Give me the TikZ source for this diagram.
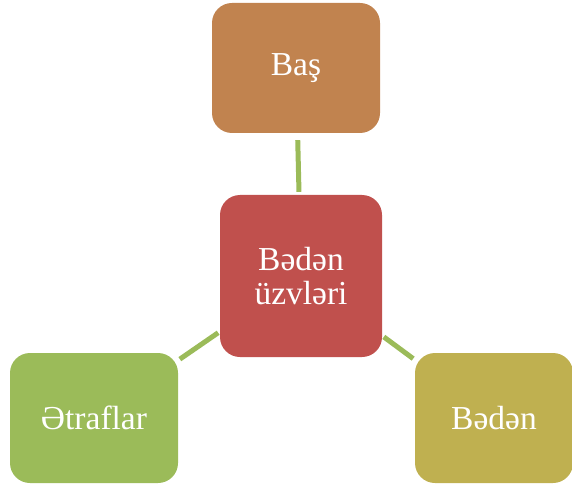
\documentclass[tikz,border=0pt]{standalone}
\usepackage{fontspec}
\setmainfont{Liberation Serif}
\definecolor{headc}{HTML}{C1834F}
\definecolor{corec}{HTML}{C0504D}
\definecolor{limbc}{HTML}{9BBB59}
\definecolor{bodyc}{HTML}{BFB050}
\definecolor{linkc}{HTML}{9BBB59}
\begin{document}
\begin{tikzpicture}[x=1pt,y=-1pt,
  box/.style={rectangle, rounded corners=20pt, draw=none, text=white,
    font=\fontsize{33.5}{34}\selectfont, align=center, inner sep=0pt},
  link/.style={draw=linkc, line width=5pt}]
  \useasboundingbox (0,0) rectangle (572,486);
  \node[box, fill=headc, minimum width=168pt, minimum height=130pt] (head) at (296,68) {Baş};
  \node[box, fill=corec, minimum width=162pt, minimum height=162pt] (core) at (301,276) {Bədən\\üzvləri};
  \node[box, fill=limbc, minimum width=168pt, minimum height=130pt] (limbs) at (94,418) {Ətraflar};
  \node[box, fill=bodyc, minimum width=158pt, minimum height=130pt] (body) at (494,418) {Bədən};
  \draw[link, shorten <=7pt, shorten >=3pt] (head) -- (core);
  \draw[link, shorten <=2pt, shorten >=2pt] (limbs) -- (core);
  \draw[link, shorten <=2pt, shorten >=2pt] (core) -- (body);
\end{tikzpicture}
\end{document}
